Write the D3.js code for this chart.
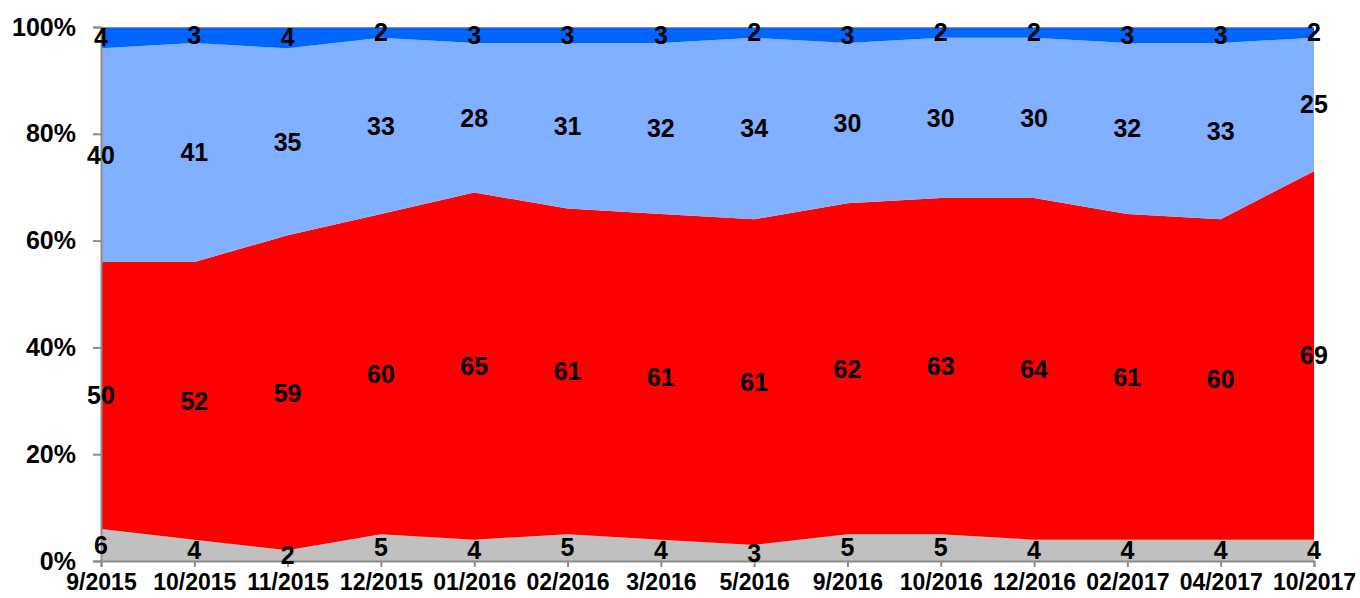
<!DOCTYPE html>
<html>
<head>
<meta charset="utf-8">
<script src="https://cdn.jsdelivr.net/npm/d3@7"></script>
<style>
  body { margin: 0; background: #fff; }
  text { font-family: "Liberation Sans", Arial, sans-serif; font-weight: bold; fill: #000; }
</style>
</head>
<body>
<svg id="chart"></svg>
<script>
var dates = ['9/2015', '10/2015', '11/2015', '12/2015', '01/2016', '02/2016', '3/2016',
  '5/2016', '9/2016', '10/2016', '12/2016', '02/2017', '04/2017', '10/2017'];
var greyValues = [6, 4, 2, 5, 4, 5, 4, 3, 5, 5, 4, 4, 4, 4];
var redValues = [50, 52, 59, 60, 65, 61, 61, 61, 62, 63, 64, 61, 60, 69];
var lightBlueValues = [40, 41, 35, 33, 28, 31, 32, 34, 30, 30, 30, 32, 33, 25];
var darkBlueValues = [4, 3, 4, 2, 3, 3, 3, 2, 3, 2, 2, 3, 3, 2];
var yTicks = [0, 20, 40, 60, 80, 100];

var seriesList = [
  { key: 'grey', values: greyValues, color: '#c0c0c0' },
  { key: 'red', values: redValues, color: '#ff0000' },
  { key: 'lightblue', values: lightBlueValues, color: '#80b0ff' },
  { key: 'darkblue', values: darkBlueValues, color: '#0066ff' }
];

var width = 1360, height = 598;
var margin = { top: 27, right: 46, bottom: 37, left: 101 };

var svg = d3.select('#chart').attr('width', width).attr('height', height);

var x = d3.scalePoint().domain(dates).range([margin.left, width - margin.right]);
var y = d3.scaleLinear().domain([0, 100]).range([height - margin.bottom, margin.top]);

// build the table for d3.stack
var table = dates.map(function (d, i) {
  var row = { date: d };
  seriesList.forEach(function (s) { row[s.key] = s.values[i]; });
  return row;
});
var stacked = d3.stack().keys(seriesList.map(function (s) { return s.key; }))(table);

var area = d3.area()
  .x(function (d) { return x(d.data.date); })
  .y0(function (d) { return y(d[0]); })
  .y1(function (d) { return y(d[1]); });

svg.append('g').selectAll('path')
  .data(stacked)
  .enter().append('path')
  .attr('d', area)
  .attr('fill', function (d, i) { return seriesList[i].color; });

// top border line at 100%
svg.append('line')
  .attr('x1', x.range()[0]).attr('x2', x.range()[1])
  .attr('y1', y(100) + 0.5).attr('y2', y(100) + 0.5)
  .attr('stroke', '#8c8c8c').attr('stroke-width', 1.2);

var yAxis = svg.append('g')
  .attr('transform', 'translate(' + margin.left + ',0)')
  .call(d3.axisLeft(y).tickValues(yTicks).tickSize(8).tickPadding(17)
    .tickFormat(function (d) { return d + '%'; }));
yAxis.selectAll('text').style('font-size', '25px');

var xAxis = svg.append('g')
  .attr('transform', 'translate(0,' + (height - margin.bottom) + ')')
  .call(d3.axisBottom(x).tickSize(6).tickPadding(7));
xAxis.selectAll('text').style('font-size', '23px');

[yAxis, xAxis].forEach(function (ax) {
  ax.selectAll('.domain, .tick line').attr('stroke', '#8c8c8c').attr('stroke-width', 2);
});

// value labels at the middle of each band
var labels = svg.append('g');
stacked.forEach(function (layer) {
  labels.selectAll(null)
    .data(layer)
    .enter().append('text')
    .attr('x', function (d) { return x(d.data.date); })
    .attr('y', function (d) { return y((d[0] + d[1]) / 2); })
    .attr('dy', '0.35em')
    .attr('text-anchor', 'middle')
    .style('font-size', '25px')
    .text(function (d) { return d[1] - d[0]; });
});
</script>
</body>
</html>
